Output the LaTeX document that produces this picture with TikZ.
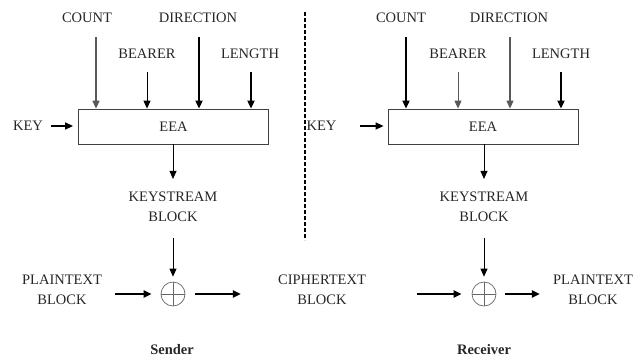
\documentclass[tikz,border=0pt]{standalone}
\usepackage{fontspec}
\setmainfont{Liberation Serif}
\usepackage{tikz}
\usetikzlibrary{arrows.meta,positioning,calc}

\begin{document}
\begin{tikzpicture}[
    x=1pt, y=-1pt,
    >={Triangle[length=8pt,width=7pt]},
    lbl/.style={font=\fontsize{14.5}{20}\selectfont, text=black!85, inner sep=1pt, align=center},
    sidelbl/.style={lbl, font=\fontsize{14.5}{20}\selectfont\bfseries},
    eeabox/.style={draw=black!75, line width=0.8pt, minimum width=190pt, minimum height=35pt,
                   inner sep=0pt, font=\fontsize{14.5}{20}\selectfont, text=black!85},
    xorsym/.style={circle, draw=black!60, line width=0.7pt, minimum size=24pt, inner sep=0pt},
    thinarr/.style={->, line width=0.9pt},
    greyarr/.style={->, line width=1.3pt, black!65},
    thickarr/.style={->, line width=1.8pt},
  ]
  \useasboundingbox (0,0) rectangle (644,360);

  % ========= LEFT: SENDER =========
  \node[lbl] (count1)  at (87,17.5)  {COUNT};
  \node[lbl] (dir1)    at (198,17.5) {DIRECTION};
  \node[lbl] (bearer1) at (147,54)   {BEARER};
  \node[lbl] (length1) at (250,54)   {LENGTH};

  \node[eeabox] (eea1) at (173.5,126.5) {EEA};
  \node[lbl] (key1) at (28,126) {KEY};

  % inputs into EEA
  \coordinate (cin1) at (96,37);
  \coordinate (bin1) at (147,72);
  \coordinate (din1) at (199,37);
  \coordinate (lin1) at (251,72);
  \draw[greyarr]  (cin1) -- (cin1 |- eea1.north);
  \draw[thinarr]  (bin1) -- (bin1 |- eea1.north);
  \draw[thickarr] (din1) -- (din1 |- eea1.north);
  \draw[thickarr] (lin1) -- (lin1 |- eea1.north);
  \draw[thickarr, line width=1.4pt, shorten <=7pt, shorten >=5pt] (key1.east) -- (key1.east -| eea1.west);

  % keystream and XOR
  \node[lbl] (ks1) at (173,207) {KEYSTREAM\\BLOCK};
  \node[xorsym] (xor1) at (173,294) {};
  \draw[black!60, line width=0.7pt] (xor1.north) -- (xor1.south) (xor1.west) -- (xor1.east);
  \draw[thinarr, shorten >=12pt] (eea1.south -| ks1) -- (ks1.north);
  \draw[thinarr, shorten <=15pt, shorten >=5pt] (ks1.south) -- (xor1.north);

  \node[lbl] (pt1) at (62,290) {PLAINTEXT\\BLOCK};
  \draw[thickarr, line width=2.2pt, shorten <=12pt, shorten >=9pt] (pt1.east |- xor1) -- (xor1.west);

  \node[sidelbl] (sender) at (172,350) {Sender};

  % ========= MIDDLE =========
  \coordinate (divtop) at (305,12);
  \coordinate (divbot) at (305,240);
  \draw[line width=2pt, dash pattern=on 4pt off 2pt] (divtop) -- (divbot);

  \node[lbl] (ct) at (322,290) {CIPHERTEXT\\BLOCK};
  \draw[thickarr, line width=2.2pt, shorten <=10pt, shorten >=36pt] (xor1.east) -- (ct.west |- xor1);

  % ========= RIGHT: RECEIVER =========
  \node[lbl] (count2)  at (401,17.5) {COUNT};
  \node[lbl] (dir2)    at (509,17.5) {DIRECTION};
  \node[lbl] (bearer2) at (458,54)   {BEARER};
  \node[lbl] (length2) at (561,54)   {LENGTH};

  \node[eeabox] (eea2) at (483,126.5) {EEA};
  \node[lbl] (key2) at (321.5,126) {KEY};

  % inputs into EEA
  \coordinate (cin2) at (406,37);
  \coordinate (bin2) at (458,72);
  \coordinate (din2) at (510,37);
  \coordinate (lin2) at (561,72);
  \coordinate (kin2) at (360,126);
  \draw[thickarr] (cin2) -- (cin2 |- eea2.north);
  \draw[greyarr, line width=1pt]  (bin2) -- (bin2 |- eea2.north);
  \draw[greyarr]  (din2) -- (din2 |- eea2.north);
  \draw[thickarr] (lin2) -- (lin2 |- eea2.north);
  \draw[thickarr, line width=1.4pt, shorten >=4pt] (kin2) -- (kin2 -| eea2.west);

  % keystream and XOR
  \node[lbl] (ks2) at (484,207) {KEYSTREAM\\BLOCK};
  \node[xorsym] (xor2) at (484,294) {};
  \draw[black!60, line width=0.7pt] (xor2.north) -- (xor2.south) (xor2.west) -- (xor2.east);
  \draw[thinarr, shorten >=12pt] (eea2.south -| ks2) -- (ks2.north);
  \draw[thinarr, shorten <=15pt, shorten >=5pt] (ks2.south) -- (xor2.north);

  \draw[thickarr, line width=2.2pt, shorten <=50pt, shorten >=10pt] (ct.east |- xor2) -- (xor2.west);

  \node[lbl] (pt2) at (593,290) {PLAINTEXT\\BLOCK};
  \draw[thickarr, line width=2.2pt, shorten <=9pt, shorten >=12pt] (xor2.east) -- (pt2.west |- xor2);

  \node[sidelbl] (receiver) at (484,350) {Receiver};
\end{tikzpicture}
\end{document}
